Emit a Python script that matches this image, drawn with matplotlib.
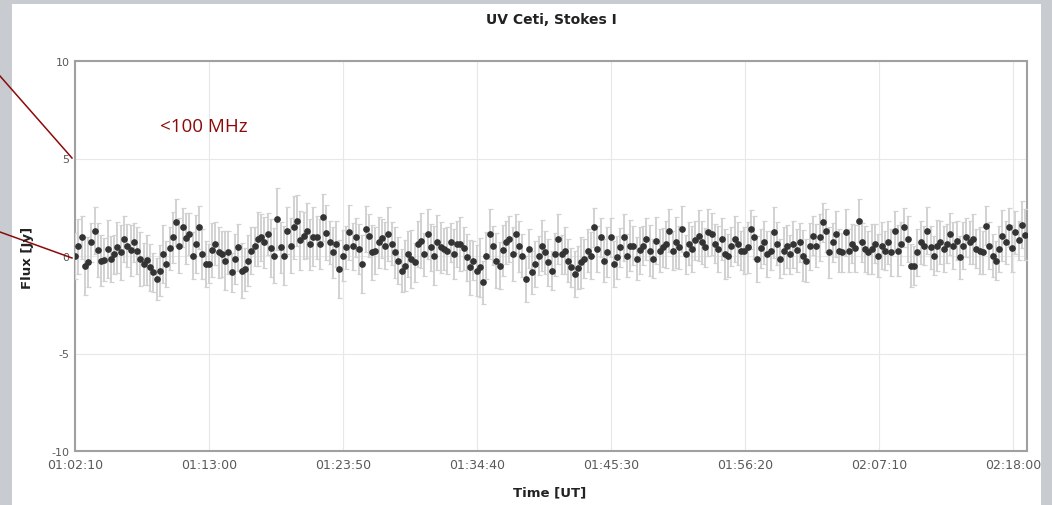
import numpy as np
import matplotlib
matplotlib.use('Agg')
import matplotlib.pyplot as plt
from matplotlib.patches import Rectangle
from matplotlib.lines import Line2D
from matplotlib.ticker import FuncFormatter

# light curve, Stokes I flux density in Jy
flux = [
    0.0, 0.5, 0.96, -0.5, -0.3, 0.7, 1.3, 0.3, -0.24, -0.2,
    0.36, -0.15, 0.1, 0.44, 0.19, 0.87, 0.53, 0.3, 0.7, 0.27,
    -0.15, -0.41, -0.2, -0.58, -0.84, -1.18, -0.75, 0.1, -0.41, 0.4,
    0.96, 1.73, 0.53, 1.47, 0.9, 1.13, 0.02, 0.62, 1.47, 0.1,
    -0.41, -0.41, 0.3, 0.62, 0.19, 0.1, -0.24, 0.2, -0.84, -0.15,
    0.44, -0.75, -0.67, -0.24, 0.27, 0.5, 0.87, 0.96, 0.7, 1.13,
    0.4, 0.02, 1.9, 0.44, 0.02, 1.3, 0.53, 1.47, 1.81, 0.8,
    1.04, 1.3, 0.6, 1.0,
    0.96, 0.62, 1.98, 1.2, 0.70, 0.19, 0.62, -0.67, 0.02, 0.44,
    1.21, 0.5, 0.96, 0.36, -0.41, 1.38, 1.04, 0.19, 0.27, 0.70,
    0.9, 0.53, 1.13, 0.62, 0.19, -0.24, -0.75, -0.5, 0.10, -0.15,
    -0.32, 0.62, 0.79, 0.10, 1.13, 0.44, 0.02, 0.7, 0.44, 0.36,
    0.27, 0.70, 0.10, 0.62, 0.62, 0.4, -0.07, -0.58, -0.24, -0.75,
    -0.58, -1.35, 0.02, 1.13, 0.53, -0.24, -0.49, 0.3, 0.70, 0.87,
    0.10, 1.13, 0.5, 0.02, -1.18, 0.36, -0.84, -0.41, 0.02, 0.53,
    0.2, -0.32, -0.75, 0.1,
    0.87, 0.10, 0.27, -0.24, -0.58, -0.92, -0.6, -0.32, -0.15, 0.27,
    0.02, 1.47, 0.36, 0.96, -0.24, 0.2, 0.96, -0.41, -0.07, 0.44,
    0.96, 0.02, 0.53, 0.53, -0.15, 0.3, 0.53, 0.87, 0.27, -0.15,
    0.79, 0.27, 0.44, 0.6, 1.30, 0.27, 0.70, 0.44, 1.38, 0.10,
    0.62, 0.36, 0.8, 1.04, 0.70, 0.44, 1.21, 1.13, 0.62, 0.36,
    0.87, 0.10, 0.02, 0.5, 0.87, 0.62, 0.27, 0.27, 0.44, 1.38,
    0.96, -0.15, 0.4, 0.70, 0.10, 0.27, 1.21, 0.62, -0.15, 0.27,
    0.5, 0.1, 0.6, 0.3,
    0.70, 0.02, -0.24, 0.5, 1.04, 0.53, 0.96, 1.73, 1.30, 0.19,
    0.70, 1.13, 0.27, 0.19, 1.21, 0.27, 0.62, 0.4, 1.81, 0.70,
    0.36, 0.19, 0.36, 0.62, 0.02, 0.53, 0.27, 0.70, 0.19, 1.30,
    0.27, 0.62, 1.47, 0.87, -0.49, -0.5, 0.19, 0.70, 0.53, 1.30,
    0.44, 0.02, 0.53, 0.70, 0.36, 0.62, 1.13, 0.53, 0.79, -0.07,
    0.53, 0.96, 0.70, 0.87, 0.36, 0.27, 0.19, 1.56, 0.53, 0.02,
    -0.24, 0.36, 1.04, 0.70, 1.47, 0.4, 1.21, 0.8, 1.6, 1.1,
]

flux_err = [
    1.2, 1.4, 1.1, 1.5, 1.3, 1.0, 1.2, 1.4, 1.3, 1.1, 1.5, 1.2, 1.0, 1.3, 1.4, 1.2, 1.1, 1.3, 1.0, 1.2,
    1.4, 1.1, 1.3, 1.2, 1.0, 1.1, 1.3, 1.5, 1.2, 1.1, 1.3, 1.2, 1.4, 1.0, 1.3, 1.1, 1.2, 1.5, 1.1, 1.3,
    1.2, 1.0, 1.4, 1.1, 1.3, 1.2, 1.5, 1.1, 1.0, 1.3, 1.2, 1.4, 1.1, 1.3, 1.2, 1.0, 1.4, 1.2, 1.3, 1.1,
    1.5, 1.4, 1.6, 1.3, 1.5, 1.2, 1.4, 1.6, 1.3, 1.5, 1.2, 1.4, 1.3, 1.5, 1.1, 1.3, 1.2, 1.4, 1.1, 1.3,
    1.2, 1.5, 1.3, 1.1, 1.4, 1.2, 1.0, 1.3, 1.5, 1.2, 1.1, 1.4, 1.2, 1.3, 1.0, 1.2, 1.4, 1.1, 1.3, 1.2,
    1.1, 1.3, 1.2, 1.5, 1.0, 1.2, 1.4, 1.1, 1.3, 1.2, 1.5, 1.4, 1.3, 1.1, 1.2, 1.0, 1.3, 1.2, 1.4, 1.1,
    1.2, 1.4, 1.0, 1.3, 1.5, 1.1, 1.2, 1.3, 1.0, 1.4, 1.2, 1.3, 1.1, 1.2, 1.4, 1.0, 1.3, 1.1, 1.2, 1.0,
    1.1, 1.2, 1.0, 1.3, 1.1, 1.2, 1.0, 1.1, 1.3, 1.0, 1.2, 1.1, 1.0, 1.2, 1.1, 1.3, 1.0, 1.1, 1.2, 1.0,
    1.2, 1.0, 1.1, 1.3, 1.0, 1.2, 1.1, 1.0, 1.2, 1.1, 1.3, 1.0, 1.1, 1.2, 1.0, 1.1, 1.3, 1.0, 1.2, 1.1,
    1.0, 1.2, 1.1, 1.0, 1.3, 1.1, 1.2, 1.0, 1.1, 1.2, 1.0, 1.3, 1.1, 1.0, 1.2, 1.1, 1.0, 1.2, 1.1, 1.3,
    1.1, 1.0, 1.2, 1.1, 1.0, 1.2, 1.3, 1.0, 1.1, 1.2, 1.0, 1.1, 1.2, 1.0, 1.3, 1.1, 1.0, 1.2, 1.1, 1.0,
    1.2, 1.1, 1.0, 1.3, 1.1, 1.2, 1.0, 1.1, 1.2, 1.0, 1.1, 1.3, 1.0, 1.2, 1.1, 1.0, 1.2, 1.1, 1.0, 1.2,
    1.1, 1.0, 1.2, 1.1, 1.3, 1.0, 1.1, 1.2, 1.0, 1.1, 1.2, 1.0, 1.3, 1.1, 1.0, 1.2, 1.1, 1.0, 1.2, 1.1,
    1.0, 1.2, 1.1, 1.0, 1.3, 1.1, 1.2, 1.0, 1.1, 1.2, 1.0, 1.1, 1.2, 1.0, 1.1, 1.3, 1.0, 1.2, 1.1, 1.0,
    1.2, 1.1, 1.0, 1.2, 1.3, 1.1, 1.0, 1.2, 1.1, 1.0, 1.2, 1.3,
]

# time grid in seconds of UT
t_start = 3730.0   # 01:02:10
t_step = 15.84
t_end = 8348.0
tick_times = [3730, 4380, 5030, 5680, 6330, 6980, 7630, 8280]
y_ticks = [-10, -5, 0, 5, 10]
y_labels = ['-10', '-5', '0', '5', '10']

times = t_start + np.arange(len(flux)) * t_step
W, H = 1052, 506


def hms(s, pos=None):
    s = int(round(s))
    return '%02d:%02d:%02d' % (s // 3600, s % 3600 // 60, s % 60)


fig = plt.figure(figsize=(W / 100, H / 100), dpi=100, facecolor='#c8ccd1')
fig.add_artist(Rectangle((12 / W, 0), (1041 - 12) / W, 1 - 5 / H,
                         transform=fig.transFigure, facecolor='white',
                         edgecolor='none', zorder=0))

ax = fig.add_axes([75 / W, 1 - 452 / H, 952 / W, 390 / H])
ax.errorbar(times, flux, yerr=flux_err, fmt='o', color='#333333', ms=3.8,
            mec='#333333', ecolor='#d2d2d2', elinewidth=1.4, capsize=1.8,
            capthick=0.9, zorder=3)

ax.set_xlim(t_start, t_end)
ax.set_ylim(-10, 10)
ax.set_xticks(tick_times)
ax.xaxis.set_major_formatter(FuncFormatter(hms))
ax.set_yticks(y_ticks)
ax.set_yticklabels(y_labels)
ax.grid(True, color='#e8e8e8', lw=0.8)
ax.set_axisbelow(True)
ax.tick_params(length=0, pad=5, labelsize=9, labelcolor='#5a5a5a')
ax.tick_params(axis='y', labelsize=8, pad=4)
for sp in ax.spines.values():
    sp.set_color('#a0a0a0')
    sp.set_linewidth(1.5)

fig.text(551 / W, 1 - 20 / H, 'UV Ceti, Stokes I', ha='center', va='center',
         fontsize=10, fontweight='bold', color='#222222')
fig.text(550 / W, 1 - 493 / H, 'Time [UT]', ha='center', va='center',
         fontsize=9.5, fontweight='bold', color='#222222')
fig.text(27 / W, 1 - 258 / H, 'Flux [Jy]', ha='center', va='center',
         rotation=90, fontsize=9.5, fontweight='bold', color='#222222')

# annotation in red
fig.text(160 / W, 1 - 127 / H, '<100 MHz', ha='left', va='center',
         fontsize=13.5, color='#8b0a0a', family='Open Sans')
fig.add_artist(Line2D([0, 72 / W], [1 - 77 / H, 1 - 159 / H],
                      transform=fig.transFigure, color='#8b0a0a', lw=1.1))
fig.add_artist(Line2D([0, 72 / W], [1 - 233 / H, 1 - 259 / H],
                      transform=fig.transFigure, color='#8b0a0a', lw=1.1))

fig.savefig('out.png', dpi=100, facecolor=fig.get_facecolor())
